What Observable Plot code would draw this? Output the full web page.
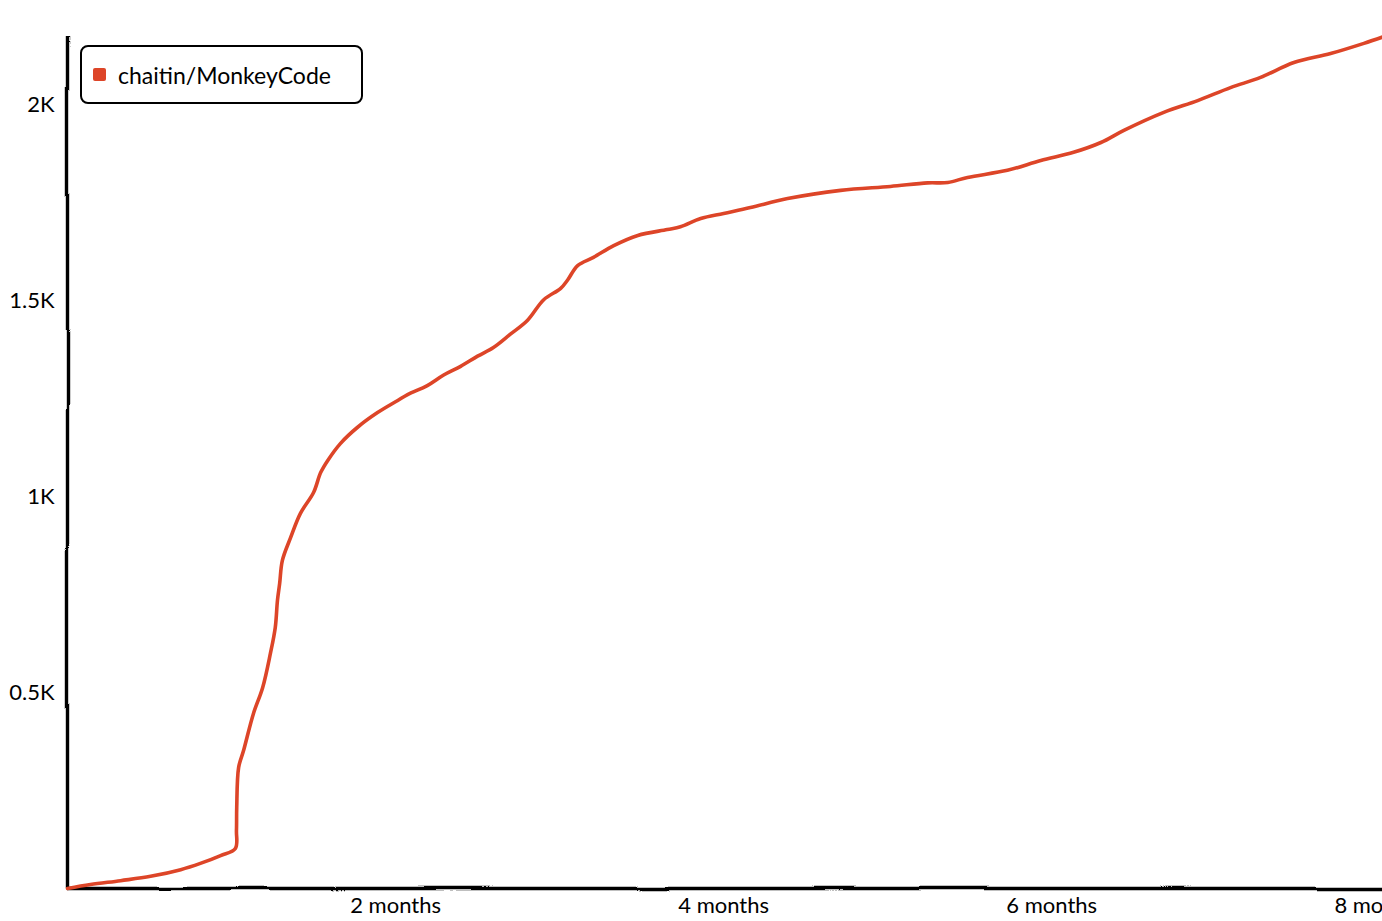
<!DOCTYPE html>
<html><head><meta charset="utf-8">
<script src="https://cdn.jsdelivr.net/npm/d3@7"></script>
<script src="https://cdn.jsdelivr.net/npm/@observablehq/plot@0.6"></script>
<style>
html,body{margin:0;padding:0;background:#fff;overflow:hidden}
#wrap{position:relative;width:1382px;height:921px;overflow:hidden;background:#fff}
#wrap svg{max-width:none}
.legend{position:absolute;left:80px;top:45px;width:283px;height:59px;box-sizing:border-box;border:2.8px solid #000;border-radius:8px;background:#fff;font-family:Lato,"Noto Sans",sans-serif;font-size:23px;color:#000;display:flex;align-items:center}
.legend .sw{width:13px;height:13px;background:#dd4528;border-radius:2px;margin-left:11px;margin-right:12px}
</style></head>
<body>
<div id="wrap"></div>
<script>
// series: days since creation vs. cumulative stars
const seriesName = "chaitin/MonkeyCode";
const seriesColor = "#dd4528";
const days  = [0, 4.2, 9.7, 15.2, 20.7, 24.3, 28.0, 30.7, 30.9, 30.95, 31.3, 32.2, 34.0, 35.7, 37.1, 38.0, 38.4, 38.8, 39.3, 40.8, 42.6, 45.0, 46.3, 47.6, 49.9, 53.0, 56.7, 60.4, 62.2, 65.8, 68.8, 71.9, 75.0, 77.9, 81.0, 84.1, 87.1, 90.2, 91.5, 93.3, 96.2, 99.9, 104.3, 109.7, 112.1, 115.8, 120.0, 124.9, 131.7, 141.4, 150.5, 157.3, 161.0, 164.6, 171.9, 178.0, 184.0, 189.0, 193.2, 200.5, 206.7, 212.7, 218.2, 224.3, 231.0, 237.1, 240.5];
const stars = [0, 10, 20, 31, 48, 64, 84, 102, 148, 207, 309, 352, 446, 513, 599, 666, 735, 778, 837, 895, 957, 1010, 1061, 1092, 1135, 1176, 1214, 1245, 1260, 1283, 1310, 1332, 1358, 1380, 1414, 1449, 1502, 1531, 1553, 1589, 1610, 1640, 1666, 1681, 1688, 1709, 1722, 1737, 1760, 1781, 1791, 1800, 1801, 1814, 1832, 1857, 1878, 1903, 1934, 1980, 2010, 2043, 2069, 2107, 2130, 2156, 2172];
const xTicks = [60, 120, 180, 240];
const xTickLabels = ["2 months", "4 months", "6 months", "8 months"];
const yTicks = [500, 1000, 1500, 2000];
const yTickLabels = ["0.5K", "1K", "1.5K", "2K"];

const data = days.map((d, i) => ({day: d, stars: stars[i]}));

const plot = Plot.plot({
  width: 1382, height: 921,
  marginLeft: 67, marginRight: 0, marginTop: 35, marginBottom: 33,
  style: {fontFamily: 'Lato, "Noto Sans", sans-serif', background: "#fff", color: "#000"},
  x: {domain: [0, 240.5]},
  y: {domain: [0, 2176]},
  marks: [
    Plot.axisX({ticks: xTicks, tickFormat: d => xTickLabels[xTicks.indexOf(d)], tickSize: 0, tickPadding: 9, fontSize: 22, label: null}),
    Plot.axisY({ticks: yTicks, tickFormat: d => yTickLabels[yTicks.indexOf(d)], tickSize: 0, tickPadding: 13, fontSize: 22, label: null}),
    Plot.ruleY([0], {stroke: "#000", strokeWidth: 3.4}),
    Plot.ruleX([0], {stroke: "#000", strokeWidth: 3.4}),
    Plot.line(data, {x: "day", y: "stars", stroke: seriesColor, strokeWidth: 3.6, curve: "catmull-rom"})
  ]
});

// hand-drawn wobble filter for the axis lines
const ns = "http://www.w3.org/2000/svg";
const defs = document.createElementNS(ns, "defs");
defs.innerHTML = `
<filter id="wobble" filterUnits="userSpaceOnUse" x="0" y="0" width="1382" height="921">
  <feTurbulence type="fractalNoise" baseFrequency="0.01" numOctaves="1" seed="3" result="n"/>
  <feDisplacementMap in="SourceGraphic" in2="n" scale="5" xChannelSelector="R" yChannelSelector="G"/>
</filter>`;
plot.insertBefore(defs, plot.firstChild);
plot.querySelectorAll('g[aria-label="rule"]').forEach(g => g.setAttribute("filter", "url(#wobble)"));

const wrap = document.getElementById("wrap");
wrap.appendChild(plot);

const legend = document.createElement("div");
legend.className = "legend";
legend.innerHTML = `<span class="sw"></span><span></span>`;
legend.lastChild.textContent = seriesName;
wrap.appendChild(legend);
</script>
</body></html>
